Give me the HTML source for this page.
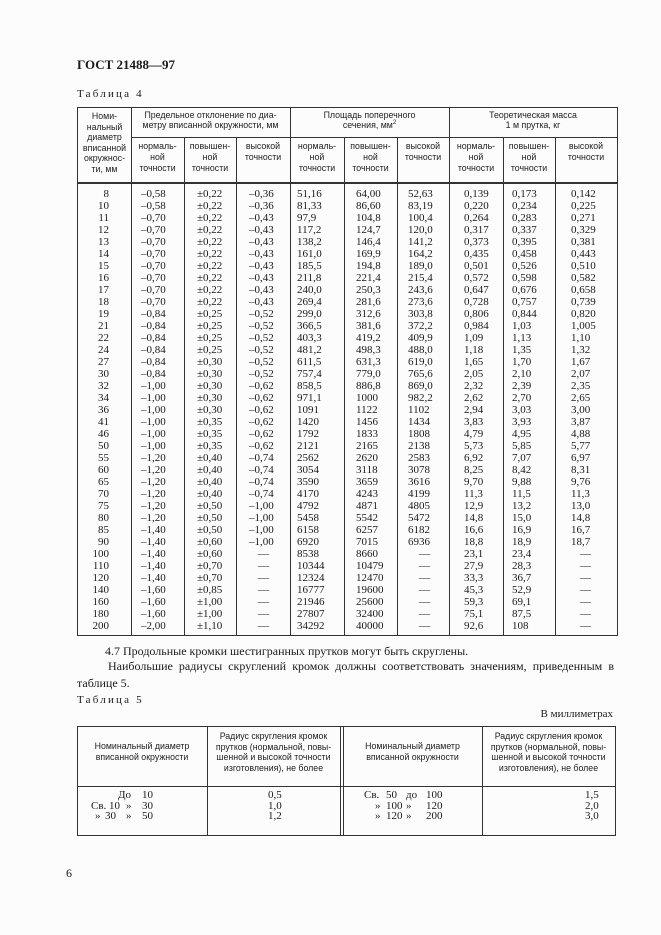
<!DOCTYPE html>
<html><head><meta charset="utf-8">
<style>
body{margin:0;background:#fcfcfc;}
#p{position:relative;width:661px;height:935px;overflow:hidden;background:#fcfcfc;color:#1a1a1a;font-family:"Liberation Serif",serif;}
.t{position:absolute;white-space:nowrap;}
.h{position:absolute;font-family:"Liberation Sans",sans-serif;font-size:8.8px;line-height:9.5px;text-align:center;color:#222;white-space:nowrap;}
.v{position:absolute;width:1px;background:#333;}
.hl{position:absolute;height:1px;background:#333;}
.r{position:absolute;left:0;width:661px;height:12px;font-size:11px;line-height:12px;}
.r span{position:absolute;top:0;}
.c0{left:69px;width:40px;text-align:right;}
.c1{left:141px}.c2{left:197px}.c3{left:249px}.c4{left:297px}.c5{left:356px}.c6{left:408px}.c7{left:464px}.c8{left:512px}.c9{left:571px}
.d3{left:258px}.d6{left:419px}.d9{left:580px}
</style></head><body><div id="p">
<div class="t" style="left:77px;top:57px;font-size:13px;font-weight:bold;">ГОСТ 21488—97</div>
<div class="t" style="left:77px;top:88px;font-size:11px;letter-spacing:2.2px;">Таблица 4</div>

<div class="hl" style="left:77px;width:540px;top:107px;"></div>
<div class="hl" style="left:131px;width:486px;top:137px;"></div>
<div class="hl" style="left:77px;width:540px;top:182px;height:1.5px;"></div>
<div class="hl" style="left:77px;width:540px;top:635px;"></div>
<div class="v" style="left:77px;top:107px;height:529px;"></div>
<div class="v" style="left:131px;top:107px;height:529px;"></div>
<div class="v" style="left:184px;top:137px;height:499px;"></div>
<div class="v" style="left:236px;top:137px;height:499px;"></div>
<div class="v" style="left:290px;top:107px;height:529px;"></div>
<div class="v" style="left:344px;top:137px;height:499px;"></div>
<div class="v" style="left:397px;top:137px;height:499px;"></div>
<div class="v" style="left:449px;top:107px;height:529px;"></div>
<div class="v" style="left:503px;top:137px;height:499px;"></div>
<div class="v" style="left:555px;top:137px;height:499px;"></div>
<div class="v" style="left:617px;top:107px;height:529px;"></div>

<div class="h" style="left:78px;width:53px;top:111px;line-height:10.5px;">Номи-<br>нальный<br>диаметр<br>вписанной<br>окружнос-<br>ти, мм</div>
<div class="h" style="left:131px;width:159px;top:111px;">Предельное отклонение по диа-<br>метру вписанной окружности, мм</div>
<div class="h" style="left:290px;width:159px;top:111px;">Площадь поперечного<br>сечения, мм<sup style="font-size:6px;line-height:0">2</sup></div>
<div class="h" style="left:449px;width:168px;top:111px;">Теоретическая масса<br>1 м прутка, кг</div>
<div class="h" style="left:131px;width:53px;top:141px;line-height:11px;">нормаль-<br>ной<br>точности</div>
<div class="h" style="left:184px;width:52px;top:141px;line-height:11px;">повышен-<br>ной<br>точности</div>
<div class="h" style="left:236px;width:54px;top:141px;line-height:11px;">высокой<br>точности</div>
<div class="h" style="left:290px;width:54px;top:141px;line-height:11px;">нормаль-<br>ной<br>точности</div>
<div class="h" style="left:344px;width:53px;top:141px;line-height:11px;">повышен-<br>ной<br>точности</div>
<div class="h" style="left:397px;width:52px;top:141px;line-height:11px;">высокой<br>точности</div>
<div class="h" style="left:449px;width:54px;top:141px;line-height:11px;">нормаль-<br>ной<br>точности</div>
<div class="h" style="left:503px;width:52px;top:141px;line-height:11px;">повышен-<br>ной<br>точности</div>
<div class="h" style="left:555px;width:62px;top:141px;line-height:11px;">высокой<br>точности</div>

<div class="r" style="top:188px"><span class="c0">8</span><span class="c1">–0,58</span><span class="c2">±0,22</span><span class="c3">–0,36</span><span class="c4">51,16</span><span class="c5">64,00</span><span class="c6">52,63</span><span class="c7">0,139</span><span class="c8">0,173</span><span class="c9">0,142</span></div>
<div class="r" style="top:200px"><span class="c0">10</span><span class="c1">–0,58</span><span class="c2">±0,22</span><span class="c3">–0,36</span><span class="c4">81,33</span><span class="c5">86,60</span><span class="c6">83,19</span><span class="c7">0,220</span><span class="c8">0,234</span><span class="c9">0,225</span></div>
<div class="r" style="top:212px"><span class="c0">11</span><span class="c1">–0,70</span><span class="c2">±0,22</span><span class="c3">–0,43</span><span class="c4">97,9</span><span class="c5">104,8</span><span class="c6">100,4</span><span class="c7">0,264</span><span class="c8">0,283</span><span class="c9">0,271</span></div>
<div class="r" style="top:224px"><span class="c0">12</span><span class="c1">–0,70</span><span class="c2">±0,22</span><span class="c3">–0,43</span><span class="c4">117,2</span><span class="c5">124,7</span><span class="c6">120,0</span><span class="c7">0,317</span><span class="c8">0,337</span><span class="c9">0,329</span></div>
<div class="r" style="top:236px"><span class="c0">13</span><span class="c1">–0,70</span><span class="c2">±0,22</span><span class="c3">–0,43</span><span class="c4">138,2</span><span class="c5">146,4</span><span class="c6">141,2</span><span class="c7">0,373</span><span class="c8">0,395</span><span class="c9">0,381</span></div>
<div class="r" style="top:248px"><span class="c0">14</span><span class="c1">–0,70</span><span class="c2">±0,22</span><span class="c3">–0,43</span><span class="c4">161,0</span><span class="c5">169,9</span><span class="c6">164,2</span><span class="c7">0,435</span><span class="c8">0,458</span><span class="c9">0,443</span></div>
<div class="r" style="top:260px"><span class="c0">15</span><span class="c1">–0,70</span><span class="c2">±0,22</span><span class="c3">–0,43</span><span class="c4">185,5</span><span class="c5">194,8</span><span class="c6">189,0</span><span class="c7">0,501</span><span class="c8">0,526</span><span class="c9">0,510</span></div>
<div class="r" style="top:272px"><span class="c0">16</span><span class="c1">–0,70</span><span class="c2">±0,22</span><span class="c3">–0,43</span><span class="c4">211,8</span><span class="c5">221,4</span><span class="c6">215,4</span><span class="c7">0,572</span><span class="c8">0,598</span><span class="c9">0,582</span></div>
<div class="r" style="top:284px"><span class="c0">17</span><span class="c1">–0,70</span><span class="c2">±0,22</span><span class="c3">–0,43</span><span class="c4">240,0</span><span class="c5">250,3</span><span class="c6">243,6</span><span class="c7">0,647</span><span class="c8">0,676</span><span class="c9">0,658</span></div>
<div class="r" style="top:296px"><span class="c0">18</span><span class="c1">–0,70</span><span class="c2">±0,22</span><span class="c3">–0,43</span><span class="c4">269,4</span><span class="c5">281,6</span><span class="c6">273,6</span><span class="c7">0,728</span><span class="c8">0,757</span><span class="c9">0,739</span></div>
<div class="r" style="top:308px"><span class="c0">19</span><span class="c1">–0,84</span><span class="c2">±0,25</span><span class="c3">–0,52</span><span class="c4">299,0</span><span class="c5">312,6</span><span class="c6">303,8</span><span class="c7">0,806</span><span class="c8">0,844</span><span class="c9">0,820</span></div>
<div class="r" style="top:320px"><span class="c0">21</span><span class="c1">–0,84</span><span class="c2">±0,25</span><span class="c3">–0,52</span><span class="c4">366,5</span><span class="c5">381,6</span><span class="c6">372,2</span><span class="c7">0,984</span><span class="c8">1,03</span><span class="c9">1,005</span></div>
<div class="r" style="top:332px"><span class="c0">22</span><span class="c1">–0,84</span><span class="c2">±0,25</span><span class="c3">–0,52</span><span class="c4">403,3</span><span class="c5">419,2</span><span class="c6">409,9</span><span class="c7">1,09</span><span class="c8">1,13</span><span class="c9">1,10</span></div>
<div class="r" style="top:344px"><span class="c0">24</span><span class="c1">–0,84</span><span class="c2">±0,25</span><span class="c3">–0,52</span><span class="c4">481,2</span><span class="c5">498,3</span><span class="c6">488,0</span><span class="c7">1,18</span><span class="c8">1,35</span><span class="c9">1,32</span></div>
<div class="r" style="top:356px"><span class="c0">27</span><span class="c1">–0,84</span><span class="c2">±0,30</span><span class="c3">–0,52</span><span class="c4">611,5</span><span class="c5">631,3</span><span class="c6">619,0</span><span class="c7">1,65</span><span class="c8">1,70</span><span class="c9">1,67</span></div>
<div class="r" style="top:368px"><span class="c0">30</span><span class="c1">–0,84</span><span class="c2">±0,30</span><span class="c3">–0,52</span><span class="c4">757,4</span><span class="c5">779,0</span><span class="c6">765,6</span><span class="c7">2,05</span><span class="c8">2,10</span><span class="c9">2,07</span></div>
<div class="r" style="top:380px"><span class="c0">32</span><span class="c1">–1,00</span><span class="c2">±0,30</span><span class="c3">–0,62</span><span class="c4">858,5</span><span class="c5">886,8</span><span class="c6">869,0</span><span class="c7">2,32</span><span class="c8">2,39</span><span class="c9">2,35</span></div>
<div class="r" style="top:392px"><span class="c0">34</span><span class="c1">–1,00</span><span class="c2">±0,30</span><span class="c3">–0,62</span><span class="c4">971,1</span><span class="c5">1000</span><span class="c6">982,2</span><span class="c7">2,62</span><span class="c8">2,70</span><span class="c9">2,65</span></div>
<div class="r" style="top:404px"><span class="c0">36</span><span class="c1">–1,00</span><span class="c2">±0,30</span><span class="c3">–0,62</span><span class="c4">1091</span><span class="c5">1122</span><span class="c6">1102</span><span class="c7">2,94</span><span class="c8">3,03</span><span class="c9">3,00</span></div>
<div class="r" style="top:416px"><span class="c0">41</span><span class="c1">–1,00</span><span class="c2">±0,35</span><span class="c3">–0,62</span><span class="c4">1420</span><span class="c5">1456</span><span class="c6">1434</span><span class="c7">3,83</span><span class="c8">3,93</span><span class="c9">3,87</span></div>
<div class="r" style="top:428px"><span class="c0">46</span><span class="c1">–1,00</span><span class="c2">±0,35</span><span class="c3">–0,62</span><span class="c4">1792</span><span class="c5">1833</span><span class="c6">1808</span><span class="c7">4,79</span><span class="c8">4,95</span><span class="c9">4,88</span></div>
<div class="r" style="top:440px"><span class="c0">50</span><span class="c1">–1,00</span><span class="c2">±0,35</span><span class="c3">–0,62</span><span class="c4">2121</span><span class="c5">2165</span><span class="c6">2138</span><span class="c7">5,73</span><span class="c8">5,85</span><span class="c9">5,77</span></div>
<div class="r" style="top:452px"><span class="c0">55</span><span class="c1">–1,20</span><span class="c2">±0,40</span><span class="c3">–0,74</span><span class="c4">2562</span><span class="c5">2620</span><span class="c6">2583</span><span class="c7">6,92</span><span class="c8">7,07</span><span class="c9">6,97</span></div>
<div class="r" style="top:464px"><span class="c0">60</span><span class="c1">–1,20</span><span class="c2">±0,40</span><span class="c3">–0,74</span><span class="c4">3054</span><span class="c5">3118</span><span class="c6">3078</span><span class="c7">8,25</span><span class="c8">8,42</span><span class="c9">8,31</span></div>
<div class="r" style="top:476px"><span class="c0">65</span><span class="c1">–1,20</span><span class="c2">±0,40</span><span class="c3">–0,74</span><span class="c4">3590</span><span class="c5">3659</span><span class="c6">3616</span><span class="c7">9,70</span><span class="c8">9,88</span><span class="c9">9,76</span></div>
<div class="r" style="top:488px"><span class="c0">70</span><span class="c1">–1,20</span><span class="c2">±0,40</span><span class="c3">–0,74</span><span class="c4">4170</span><span class="c5">4243</span><span class="c6">4199</span><span class="c7">11,3</span><span class="c8">11,5</span><span class="c9">11,3</span></div>
<div class="r" style="top:500px"><span class="c0">75</span><span class="c1">–1,20</span><span class="c2">±0,50</span><span class="c3">–1,00</span><span class="c4">4792</span><span class="c5">4871</span><span class="c6">4805</span><span class="c7">12,9</span><span class="c8">13,2</span><span class="c9">13,0</span></div>
<div class="r" style="top:512px"><span class="c0">80</span><span class="c1">–1,20</span><span class="c2">±0,50</span><span class="c3">–1,00</span><span class="c4">5458</span><span class="c5">5542</span><span class="c6">5472</span><span class="c7">14,8</span><span class="c8">15,0</span><span class="c9">14,8</span></div>
<div class="r" style="top:524px"><span class="c0">85</span><span class="c1">–1,40</span><span class="c2">±0,50</span><span class="c3">–1,00</span><span class="c4">6158</span><span class="c5">6257</span><span class="c6">6182</span><span class="c7">16,6</span><span class="c8">16,9</span><span class="c9">16,7</span></div>
<div class="r" style="top:536px"><span class="c0">90</span><span class="c1">–1,40</span><span class="c2">±0,60</span><span class="c3">–1,00</span><span class="c4">6920</span><span class="c5">7015</span><span class="c6">6936</span><span class="c7">18,8</span><span class="c8">18,9</span><span class="c9">18,7</span></div>
<div class="r" style="top:548px"><span class="c0">100</span><span class="c1">–1,40</span><span class="c2">±0,60</span><span class="d3">—</span><span class="c4">8538</span><span class="c5">8660</span><span class="d6">—</span><span class="c7">23,1</span><span class="c8">23,4</span><span class="d9">—</span></div>
<div class="r" style="top:560px"><span class="c0">110</span><span class="c1">–1,40</span><span class="c2">±0,70</span><span class="d3">—</span><span class="c4">10344</span><span class="c5">10479</span><span class="d6">—</span><span class="c7">27,9</span><span class="c8">28,3</span><span class="d9">—</span></div>
<div class="r" style="top:572px"><span class="c0">120</span><span class="c1">–1,40</span><span class="c2">±0,70</span><span class="d3">—</span><span class="c4">12324</span><span class="c5">12470</span><span class="d6">—</span><span class="c7">33,3</span><span class="c8">36,7</span><span class="d9">—</span></div>
<div class="r" style="top:584px"><span class="c0">140</span><span class="c1">–1,60</span><span class="c2">±0,85</span><span class="d3">—</span><span class="c4">16777</span><span class="c5">19600</span><span class="d6">—</span><span class="c7">45,3</span><span class="c8">52,9</span><span class="d9">—</span></div>
<div class="r" style="top:596px"><span class="c0">160</span><span class="c1">–1,60</span><span class="c2">±1,00</span><span class="d3">—</span><span class="c4">21946</span><span class="c5">25600</span><span class="d6">—</span><span class="c7">59,3</span><span class="c8">69,1</span><span class="d9">—</span></div>
<div class="r" style="top:608px"><span class="c0">180</span><span class="c1">–1,60</span><span class="c2">±1,00</span><span class="d3">—</span><span class="c4">27807</span><span class="c5">32400</span><span class="d6">—</span><span class="c7">75,1</span><span class="c8">87,5</span><span class="d9">—</span></div>
<div class="r" style="top:620px"><span class="c0">200</span><span class="c1">–2,00</span><span class="c2">±1,10</span><span class="d3">—</span><span class="c4">34292</span><span class="c5">40000</span><span class="d6">—</span><span class="c7">92,6</span><span class="c8">108</span><span class="d9">—</span></div>

<div class="t" style="left:105px;top:644px;font-size:12px;">4.7 Продольные кромки шестигранных прутков могут быть скруглены.</div>
<div class="t" style="left:108px;top:659px;width:506px;font-size:12px;text-align:justify;text-align-last:justify;white-space:normal;">Наибольшие радиусы скруглений кромок должны соответствовать значениям, приведенным в</div>
<div class="t" style="left:77px;top:676px;font-size:12px;">таблице 5.</div>

<div class="t" style="left:77px;top:694px;font-size:11px;letter-spacing:2.2px;">Таблица 5</div>
<div class="t" style="left:513px;top:708px;width:100px;text-align:right;font-size:11px;">В миллиметрах</div>

<div class="hl" style="left:77px;width:538px;top:726px;"></div>
<div class="hl" style="left:77px;width:538px;top:786px;"></div>
<div class="hl" style="left:77px;width:538px;top:835px;"></div>
<div class="v" style="left:77px;top:726px;height:110px;"></div>
<div class="v" style="left:207px;top:726px;height:110px;"></div>
<div class="v" style="left:340px;top:726px;height:110px;"></div>
<div class="v" style="left:343px;top:726px;height:110px;"></div>
<div class="v" style="left:482px;top:726px;height:110px;"></div>
<div class="v" style="left:615px;top:726px;height:110px;"></div>
<div class="h" style="left:77px;width:130px;top:741px;line-height:11px;">Номинальный диаметр<br>вписанной окружности</div>
<div class="h" style="left:207px;width:133px;top:731px;line-height:10.5px;">Радиус скругления кромок<br>прутков (нормальной, повы-<br>шенной и высокой точности<br>изготовления), не более</div>
<div class="h" style="left:343px;width:139px;top:741px;line-height:11px;">Номинальный диаметр<br>вписанной окружности</div>
<div class="h" style="left:482px;width:133px;top:731px;line-height:10.5px;">Радиус скругления кромок<br>прутков (нормальной, повы-<br>шенной и высокой точности<br>изготовления), не более</div>

<div class="t" style="left:0;top:790px;width:661px;font-size:11px;line-height:10.5px;">
<span style="position:absolute;left:118px;">До</span><span style="position:absolute;left:140px;width:13px;text-align:right;">10</span>
<span style="position:absolute;left:268px;">0,5</span>
<span style="position:absolute;left:364px;">Св.</span><span style="position:absolute;left:386px;">50</span><span style="position:absolute;left:406px;">до</span><span style="position:absolute;left:426px;">100</span>
<span style="position:absolute;left:585px;">1,5</span>
</div>
<div class="t" style="left:0;top:801px;width:661px;font-size:11px;line-height:10.5px;">
<span style="position:absolute;left:91px;">Св. 10</span><span style="position:absolute;left:126px;">»</span><span style="position:absolute;left:140px;width:13px;text-align:right;">30</span>
<span style="position:absolute;left:268px;">1,0</span>
<span style="position:absolute;left:375px;">»</span><span style="position:absolute;left:386px;">100</span><span style="position:absolute;left:406px;">»</span><span style="position:absolute;left:426px;">120</span>
<span style="position:absolute;left:585px;">2,0</span>
</div>
<div class="t" style="left:0;top:811px;width:661px;font-size:11px;line-height:10.5px;">
<span style="position:absolute;left:95px;">»</span><span style="position:absolute;left:105px;">30</span><span style="position:absolute;left:126px;">»</span><span style="position:absolute;left:140px;width:13px;text-align:right;">50</span>
<span style="position:absolute;left:268px;">1,2</span>
<span style="position:absolute;left:375px;">»</span><span style="position:absolute;left:386px;">120</span><span style="position:absolute;left:406px;">»</span><span style="position:absolute;left:426px;">200</span>
<span style="position:absolute;left:585px;">3,0</span>
</div>

<div class="t" style="left:66px;top:866px;font-size:12px;">6</div>
</div></body></html>
